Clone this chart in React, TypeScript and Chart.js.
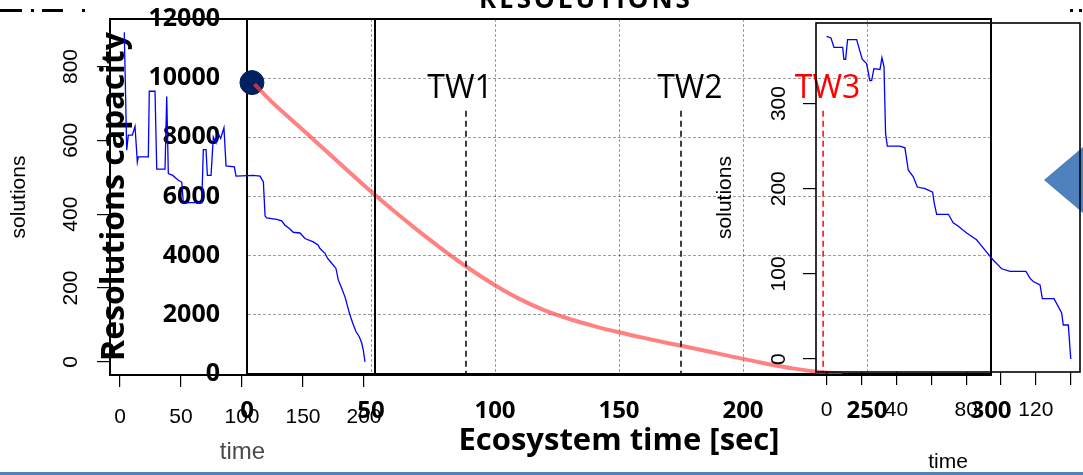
import React, { useEffect, useRef } from 'react';
import { Chart, registerables } from 'chart.js';

Chart.register(...registerables);

// ---------- main chart data ----------
const mainTime = [3, 10, 20, 30, 40, 50, 60, 70, 80, 90, 100, 110, 120, 130, 140, 150, 160, 170, 180, 190, 200, 210, 220, 230, 240];
const mainCapacity = [9800, 9200, 8440, 7680, 6920, 6170, 5460, 4780, 4140, 3540, 3000, 2530, 2150, 1860, 1620, 1410, 1220, 1040, 870, 690, 510, 340, 190, 75, 10];
const startTime = [2];
const startCapacity = [9850];
const mainXTicks = [0, 50, 100, 150, 200, 250, 300];
const mainXLabels = ['0', '50', '100', '150', '200', '250', '300'];
const mainYTicks = [0, 2000, 4000, 6000, 8000, 10000, 12000];
const mainYLabels = ['0', '2000', '4000', '6000', '8000', '10000', '12000'];

// time windows
const twNames = ['TW1', 'TW2', 'TW3'];
const twLineTime = [88.3, 175, 232.3];
const twLineTop = 8900;
const twLabelTime = [85.9, 178.6, 234.1];
const twLabelCapacity = 9330;
const twColors = ['#000000', '#000000', '#ff0000'];

// ---------- left inset data ----------
const leftTime = [3.5, 5.5, 6.8, 10.1, 12.3, 14.2, 15, 23.2, 24, 28.7, 30.1, 36.9, 38.3, 39.6, 43.2, 47.8, 50.6, 51.9, 67, 68.3, 70.5, 71.6, 74.6, 76.5, 78.7, 80.6, 82.5, 85.2, 86.9, 93.7, 95.1, 109.3, 114.8, 117.5, 118.9, 120.2, 128.4, 132.5, 135.2, 138.8, 142, 147.5, 151.6, 158.4, 162.5, 163.9, 168, 170.2, 173.5, 177, 178.9, 181.7, 184.4, 185.8, 188, 190.7, 193.4, 196.1, 198.1, 199.4, 200.8];
const leftSolutions = [893, 573, 614, 614, 638, 541, 555, 555, 733, 733, 522, 522, 719, 510, 505, 492, 487, 431, 431, 575, 575, 505, 505, 609, 593, 618, 605, 634, 531, 528, 503, 505, 503, 487, 395, 390, 386, 382, 370, 361, 351, 349, 334, 325, 316, 307, 294, 280, 267, 253, 222, 199, 176, 159, 132, 105, 82, 68, 51, 32, 0];
const leftXTicks = [0, 50, 100, 150, 200];
const leftXLabels = ['0', '50', '100', '150', '200'];
const leftYTicks = [0, 200, 400, 600, 800];
const leftYLabels = ['0', '200', '400', '600', '800'];

// ---------- right inset data ----------
const rightTime = [0, 2.5, 4.2, 9.2, 9.9, 10.9, 12, 17.2, 20.4, 22.9, 24.8, 25.8, 27.1, 30.6, 31.7, 32.9, 33.8, 34.8, 42, 44.9, 46.8, 49.7, 52, 56.4, 60.8, 61.7, 63.1, 69.8, 72.6, 75.5, 80.3, 86, 90.8, 95.6, 100.4, 105.2, 114.3, 116.6, 118.5, 122.4, 123.7, 130.4, 134.8, 135.7, 138.6, 140];
const rightSolutions = [379, 377, 366, 366, 352, 352, 375, 375, 352, 347, 327, 327, 341, 340, 354, 343, 265, 250, 250, 248, 222, 214, 202, 200, 196, 183, 170, 170, 160, 156, 148, 140, 128, 116, 106, 103, 103, 95, 91, 87, 71, 71, 54, 40, 40, 0];
const rightXTicks = [0, 20, 40, 60, 80, 100, 120, 140];
const rightXLabels = ['0', '', '40', '', '80', '', '120', ''];
const rightYTicks = [0, 100, 200, 300];
const rightYLabels = ['0', '100', '200', '300'];

const W = 1083;
const H = 475;

const setTicks = (values: number[]) => (scale: any) => {
  scale.ticks = values.map((v) => ({ value: v }));
};
const labelFrom = (values: number[], labels: string[]) => (value: any) => {
  const i = values.indexOf(Number(value));
  return i >= 0 ? labels[i] : '';
};
const fixHeight = (h: number) => (s: any) => {
  s.height = h;
  s.paddingLeft = 0;
  s.paddingRight = 0;
};
const fixWidth = (w: number) => (s: any) => {
  s.width = w;
  s.paddingTop = 0;
  s.paddingBottom = 0;
};

const framePlugin = {
  id: 'frame',
  beforeDatasetsDraw(chart: any, _args: any, opts: any) {
    const { ctx, chartArea: a } = chart;
    ctx.save();
    ctx.strokeStyle = opts.color || '#000';
    ctx.lineWidth = opts.width || 1.5;
    ctx.setLineDash([]);
    ctx.strokeRect(a.left, a.top, a.right - a.left, a.bottom - a.top);
    ctx.restore();
  },
};

const twLabelPlugin = {
  id: 'twLabels',
  afterDatasetsDraw(chart: any) {
    const { ctx, scales } = chart;
    ctx.save();
    ctx.font = '32px "Open Sans", sans-serif';
    ctx.textAlign = 'center';
    ctx.textBaseline = 'alphabetic';
    twNames.forEach((name, i) => {
      ctx.fillStyle = twColors[i];
      ctx.fillText(name, scales.x.getPixelForValue(twLabelTime[i]), scales.y.getPixelForValue(twLabelCapacity));
    });
    ctx.restore();
  },
};

const calibri = "'Open Sans', sans-serif";
const arial = "'Liberation Sans', Arial, sans-serif";

function mainConfig(): any {
  const twSets = twNames.map((name, i) => ({
    label: name,
    data: [
      { x: twLineTime[i], y: twLineTop },
      { x: twLineTime[i], y: 0 },
    ],
    borderColor: twColors[i],
    borderWidth: 1.5,
    borderDash: [6, 4],
    pointRadius: 0,
  }));
  return {
    type: 'line',
    data: {
      datasets: [
        ...twSets,
        {
          label: 'capacity',
          data: mainTime.map((t, i) => ({ x: t, y: mainCapacity[i] })),
          borderColor: 'rgba(255, 70, 70, 0.68)',
          borderWidth: 4,
          pointRadius: 0,
          cubicInterpolationMode: 'monotone',
        },
        {
          label: 'start',
          data: startTime.map((t, i) => ({ x: t, y: startCapacity[i] })),
          showLine: false,
          pointRadius: 12,
          pointBackgroundColor: '#002060',
          pointBorderColor: '#002060',
          clip: false,
        },
      ],
    },
    options: {
      responsive: false,
      animation: false,
      layout: { padding: { left: 96, right: 92, top: 19, bottom: 15 } },
      plugins: {
        legend: { display: false },
        tooltip: { enabled: false },
        frame: { width: 2, color: '#000' },
      },
      scales: {
        x: {
          type: 'linear',
          min: 0,
          max: 300,
          afterBuildTicks: setTicks(mainXTicks),
          afterFit: fixHeight(86),
          grid: { color: 'rgba(0,0,0,0.38)', lineWidth: 1, drawTicks: false },
          border: { display: true, color: '#000', width: 3, dash: [3, 2] },
          ticks: {
            callback: labelFrom(mainXTicks, mainXLabels),
            font: { family: calibri, weight: 'bold', size: 24 },
            color: '#000',
            padding: 23,
            maxRotation: 0,
            autoSkip: false,
          },
          title: {
            display: true,
            text: 'Ecosystem time [sec]',
            font: { family: calibri, weight: 'bold', size: 31 },
            color: '#000',
            padding: 0,
          },
        },
        y: {
          type: 'linear',
          min: 0,
          max: 12000,
          afterBuildTicks: setTicks(mainYTicks),
          afterFit: fixWidth(151),
          grid: { color: 'rgba(0,0,0,0.38)', lineWidth: 1, drawTicks: false },
          border: { display: true, color: '#000', width: 2, dash: [3, 2] },
          ticks: {
            callback: labelFrom(mainYTicks, mainYLabels),
            font: { family: calibri, weight: 'bold', size: 25 },
            color: '#000',
            padding: 27,
            autoSkip: false,
          },
          title: {
            display: true,
            text: 'Resolutions capacity',
            font: { family: calibri, weight: 'bold', size: 32 },
            color: '#000',
            padding: 0,
          },
        },
      },
    },
    plugins: [framePlugin, twLabelPlugin],
  };
}

function insetConfig(p: {
  t: number[]; v: number[];
  xMin: number; xMax: number; yMin: number; yMax: number;
  xTicks: number[]; xLabels: string[]; yTicks: number[]; yLabels: string[];
  padding: any; xHeight: number; yWidth: number;
  xTickLen: number; yTickLen: number; xPad: number; yPad: number;
  xTitleSize: number; xTitleColor: string; frameWidth: number;
}): any {
  return {
    type: 'line',
    data: {
      datasets: [
        {
          label: 'solutions',
          data: p.t.map((t, i) => ({ x: t, y: p.v[i] })),
          borderColor: '#0000ff',
          borderWidth: 1.3,
          pointRadius: 0,
          tension: 0,
        },
      ],
    },
    options: {
      responsive: false,
      animation: false,
      layout: { padding: p.padding },
      plugins: {
        legend: { display: false },
        tooltip: { enabled: false },
        frame: { width: p.frameWidth, color: '#000' },
      },
      scales: {
        x: {
          type: 'linear',
          min: p.xMin,
          max: p.xMax,
          afterBuildTicks: setTicks(p.xTicks),
          afterFit: fixHeight(p.xHeight),
          grid: { drawOnChartArea: false, drawTicks: true, tickLength: p.xTickLen, color: '#000', lineWidth: 1.2 },
          border: { display: false },
          ticks: {
            callback: labelFrom(p.xTicks, p.xLabels),
            font: { family: arial, size: 21 },
            color: '#000',
            padding: p.xPad,
            maxRotation: 0,
            autoSkip: false,
          },
          title: {
            display: true,
            text: 'time',
            font: { family: arial, size: p.xTitleSize },
            color: p.xTitleColor,
            padding: 0,
          },
        },
        y: {
          type: 'linear',
          min: p.yMin,
          max: p.yMax,
          afterBuildTicks: setTicks(p.yTicks),
          afterFit: fixWidth(p.yWidth),
          grid: { drawOnChartArea: false, drawTicks: true, tickLength: p.yTickLen, color: '#000', lineWidth: 1.2 },
          border: { display: false },
          ticks: {
            callback: labelFrom(p.yTicks, p.yLabels),
            font: { family: arial, size: 21 },
            color: '#000',
            padding: p.yPad,
            minRotation: 90,
            maxRotation: 90,
            crossAlign: 'center',
            autoSkip: false,
          },
          title: {
            display: true,
            text: 'solutions',
            font: { family: arial, size: 21 },
            color: '#000',
            padding: 0,
          },
        },
      },
    },
    plugins: [framePlugin],
  };
}

const canvasStyle: React.CSSProperties = { position: 'absolute', left: 0, top: 0, width: W, height: H };

export default function App() {
  const mainRef = useRef<HTMLCanvasElement>(null);
  const leftRef = useRef<HTMLCanvasElement>(null);
  const rightRef = useRef<HTMLCanvasElement>(null);

  useEffect(() => {
    const charts: Chart[] = [];
    if (mainRef.current) charts.push(new Chart(mainRef.current, mainConfig()));
    if (leftRef.current)
      charts.push(
        new Chart(
          leftRef.current,
          insetConfig({
            t: leftTime, v: leftSolutions,
            xMin: -8.2, xMax: 209, yMin: -35.7, yMax: 928.7,
            xTicks: leftXTicks, xLabels: leftXLabels, yTicks: leftYTicks, yLabels: leftYLabels,
            padding: { left: 7, right: 708, top: 19, bottom: 8 },
            xHeight: 92, yWidth: 103, xTickLen: 12, yTickLen: 13, xPad: 18, yPad: 8,
            xTitleSize: 24, xTitleColor: '#4a4a4a', frameWidth: 2,
          })
        )
      );
    if (rightRef.current)
      charts.push(
        new Chart(
          rightRef.current,
          insetConfig({
            t: rightTime, v: rightSolutions,
            xMin: -6.1, xMax: 145.3, yMin: -15.2, yMax: 394.6,
            xTicks: rightXTicks, xLabels: rightXLabels, yTicks: rightYTicks, yLabels: rightYLabels,
            padding: { left: 713, right: 3, top: 23, bottom: 0 },
            xHeight: 103, yWidth: 103, xTickLen: 13, yTickLen: 13, xPad: 13, yPad: 6,
            xTitleSize: 21, xTitleColor: '#000', frameWidth: 1.6,
          })
        )
      );
    return () => charts.forEach((c) => c.destroy());
  }, []);

  const seg = (left: number, width: number): React.CSSProperties => ({
    position: 'absolute', left, top: 9, width, height: 3, background: '#000',
  });

  return (
    <div style={{ position: 'fixed', left: 0, top: 0, width: W, height: H, overflow: 'hidden', background: '#fff' }}>
      <canvas ref={mainRef} width={W} height={H} style={canvasStyle} />
      <div
        style={{
          position: 'absolute', left: 1044, top: 142, width: 45, height: 76, background: '#4f81bd',
          clipPath: 'polygon(0 50%, 100% 0, 100% 100%)',
        }}
      />
      <canvas ref={leftRef} width={W} height={H} style={canvasStyle} />
      <canvas ref={rightRef} width={W} height={H} style={canvasStyle} />
      <div
        style={{
          position: 'absolute', left: 586, top: -15, transform: 'translateX(-50%)', whiteSpace: 'nowrap',
          fontFamily: calibri, fontWeight: 700, fontSize: 26, lineHeight: '26px', letterSpacing: 3, color: '#000',
        }}
      >
        RESOLUTIONS
      </div>
      <div style={seg(0, 22)} />
      <div style={seg(31, 3)} />
      <div style={seg(42, 21)} />
      <div style={seg(82, 3)} />
      <div style={{ position: 'absolute', left: 1070, top: 9, width: 3, height: 3, background: '#000' }} />
      <div style={{ position: 'absolute', left: 1079, top: 9, width: 3, height: 3, background: '#000' }} />
      <div style={{ position: 'absolute', left: 0, top: 472, width: W, height: 3, background: '#4f81bd' }} />
    </div>
  );
}
